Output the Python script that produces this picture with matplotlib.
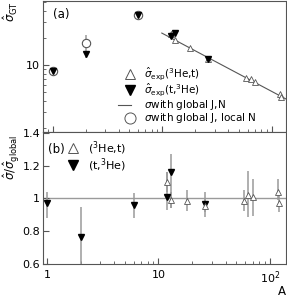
import numpy as np
import matplotlib
matplotlib.use("Agg")
import matplotlib.pyplot as plt

# --- data ---
# (3He,t) points
A_he = [12, 13, 18, 26, 58, 64, 70, 118, 120]
sig_he = [21.9, 18.9, 15.5, 11.6, 7.1, 6.9, 6.45, 4.76, 4.40]
rat_he = [1.10, 0.99, 0.985, 0.955, 0.985, 1.02, 1.006, 1.04, 0.973]
rat_he_up = [0.06, 0.05, 0.065, 0.04, 0.065, 0.15, 0.11, 0.076, 0.05]
rat_he_dn = [0.06, 0.05, 0.061, 0.04, 0.061, 0.133, 0.116, 0.05, 0.055]

# (t,3He) points
A_t = [1, 2, 6, 12, 13, 26]
sig_t = [8.6, 13.1, 35.9, 20.8, 22.5, 11.7]
sig_t_up = [0, 1.6, 0, 0, 0, 0]
sig_t_dn = [0, 1.1, 0, 0, 0, 0]
rat_t = [0.969, 0.765, 0.959, 1.006, 1.159, 0.965]
rat_t_up = [0.071, 0.184, 0.071, 0.157, 0.11, 0.072]
rat_t_dn = [0.091, 0.2, 0.081, 0.076, 0.22, 0.078]

# global J, local N
A_loc = [1, 2, 6]
sig_loc = [8.6, 17.4, 35.9]
sig_loc_up = [0, 4.2, 0]
sig_loc_dn = [0, 2.7, 0]

# global J,N line
A_line = [9.9, 136]
sig_line = [22.5, 4.15]

grey = '#9a9a9a'
dark = '#555555'

plt.rcParams['font.family'] = 'DejaVu Sans'
plt.rcParams['font.size'] = 8

fig = plt.figure(figsize=(2.87, 2.97), dpi=100)
ax1 = fig.add_axes([0.1498, 0.5556, 0.8467, 0.441])
ax2 = fig.add_axes([0.1498, 0.1111, 0.8467, 0.4445])

for ax in (ax1, ax2):
    ax.set_xscale('log')
    for s in ax.spines.values():
        s.set_color(dark)
        s.set_linewidth(0.8)
    ax.tick_params(which='both', direction='in', color=dark, labelsize=8, pad=2)
    ax.tick_params(which='major', length=4)
    ax.tick_params(which='minor', length=2)

# top panel
ax1.set_yscale('log')
ax1.plot(A_line, sig_line, color=dark, lw=0.8)
ax1.errorbar(A_loc, sig_loc, yerr=[sig_loc_dn, sig_loc_up], fmt='o', mfc='white',
             mec=dark, ms=6, mew=0.8, ecolor=grey, elinewidth=1.1, capsize=0)
ax1.errorbar(A_t, sig_t, yerr=[sig_t_dn, sig_t_up], fmt='v', color='black',
             ms=4.2, ecolor=grey, elinewidth=1.1, capsize=0)
ax1.plot(A_he, sig_he, '^', mfc='white', mec=dark, ms=4, mew=0.6)
ax1.set_xlim(0.816, 134.5)
ax1.set_ylim(1.8, 51)
ax1.set_yticks([10])
ax1.set_yticklabels(['10'])
ax1.tick_params(axis='x', labelbottom=False)
ax1.text(0.04, 0.9, '(a)', transform=ax1.transAxes, fontsize=8.5, va='center')

# legend (a), drawn by hand for tight row spacing
tr = ax1.transAxes
rows = [0.445, 0.32, 0.205, 0.11]
ax1.plot([0.358], [rows[0]], '^', transform=tr, mfc='white', mec=dark, ms=7, mew=0.7)
ax1.plot([0.358], [rows[1]], 'v', transform=tr, color='black', ms=7)
ax1.plot([0.309, 0.362], [rows[2], rows[2]], transform=tr, color=dark, lw=0.8)
ax1.plot([0.358], [rows[3]], 'o', transform=tr, mfc='white', mec=dark, ms=8, mew=0.7)
leg_a = [r'$\hat{\sigma}_{\rm exp}$($^3$He,t)', r'$\hat{\sigma}_{\rm exp}$(t,$^3$He)',
         r'$\sigma$with global J,N', r'$\sigma$with global J, local N']
for lab, yy in zip(leg_a, rows):
    ax1.text(0.415, yy, lab, transform=tr, fontsize=7.5, va='center')

# bottom panel
ax2.axhline(1, color=grey, lw=1.0, zorder=1)
ax2.errorbar(A_t, rat_t, yerr=[rat_t_dn, rat_t_up], fmt='v', color='black', ms=4.5,
             ecolor=grey, elinewidth=1.1, capsize=0, zorder=3)
ax2.errorbar(A_he, rat_he, yerr=[rat_he_dn, rat_he_up], fmt='^', mfc='white', mec=dark,
             ms=5, mew=0.6, ecolor=grey, elinewidth=1.1, capsize=0, zorder=3)
ax2.set_xlim(0.921, 139.4)
ax2.set_ylim(0.6, 1.405)
ax2.set_yticks([0.6, 0.8, 1.0, 1.2, 1.4])
ax2.set_yticklabels(['0.6', '0.8', '1', '1.2', '1.4'])
ax2.set_xticks([1, 10, 100])
ax2.set_xticklabels(['1', '10', r'10$^2$'])
ax2.tick_params(axis='x', pad=4)
tr2 = ax2.transAxes
ax2.text(0.02, 0.87, '(b)', transform=tr2, fontsize=8.5, va='center')
ax2.plot([0.122], [0.879], '^', transform=tr2, mfc='white', mec=dark, ms=7, mew=0.7)
ax2.plot([0.122], [0.75], 'v', transform=tr2, color='black', ms=7)
ax2.text(0.185, 0.879, r'($^3$He,t)', transform=tr2, fontsize=8, va='center')
ax2.text(0.185, 0.75, r'(t,$^3$He)', transform=tr2, fontsize=8, va='center')

fig.text(0.008, 0.995, r'$\hat{\sigma}_{\rm GT}$', rotation=90, va='top', ha='left', fontsize=8.5)
fig.text(0.005, 0.545, r'$\hat{\sigma}/\hat{\sigma}_{\rm global}$', rotation=90, va='top',
         ha='left', fontsize=8.5)
fig.text(0.982, 0.02, 'A', ha='center', va='center', fontsize=8.5)

fig.savefig('out.png', dpi=100)
